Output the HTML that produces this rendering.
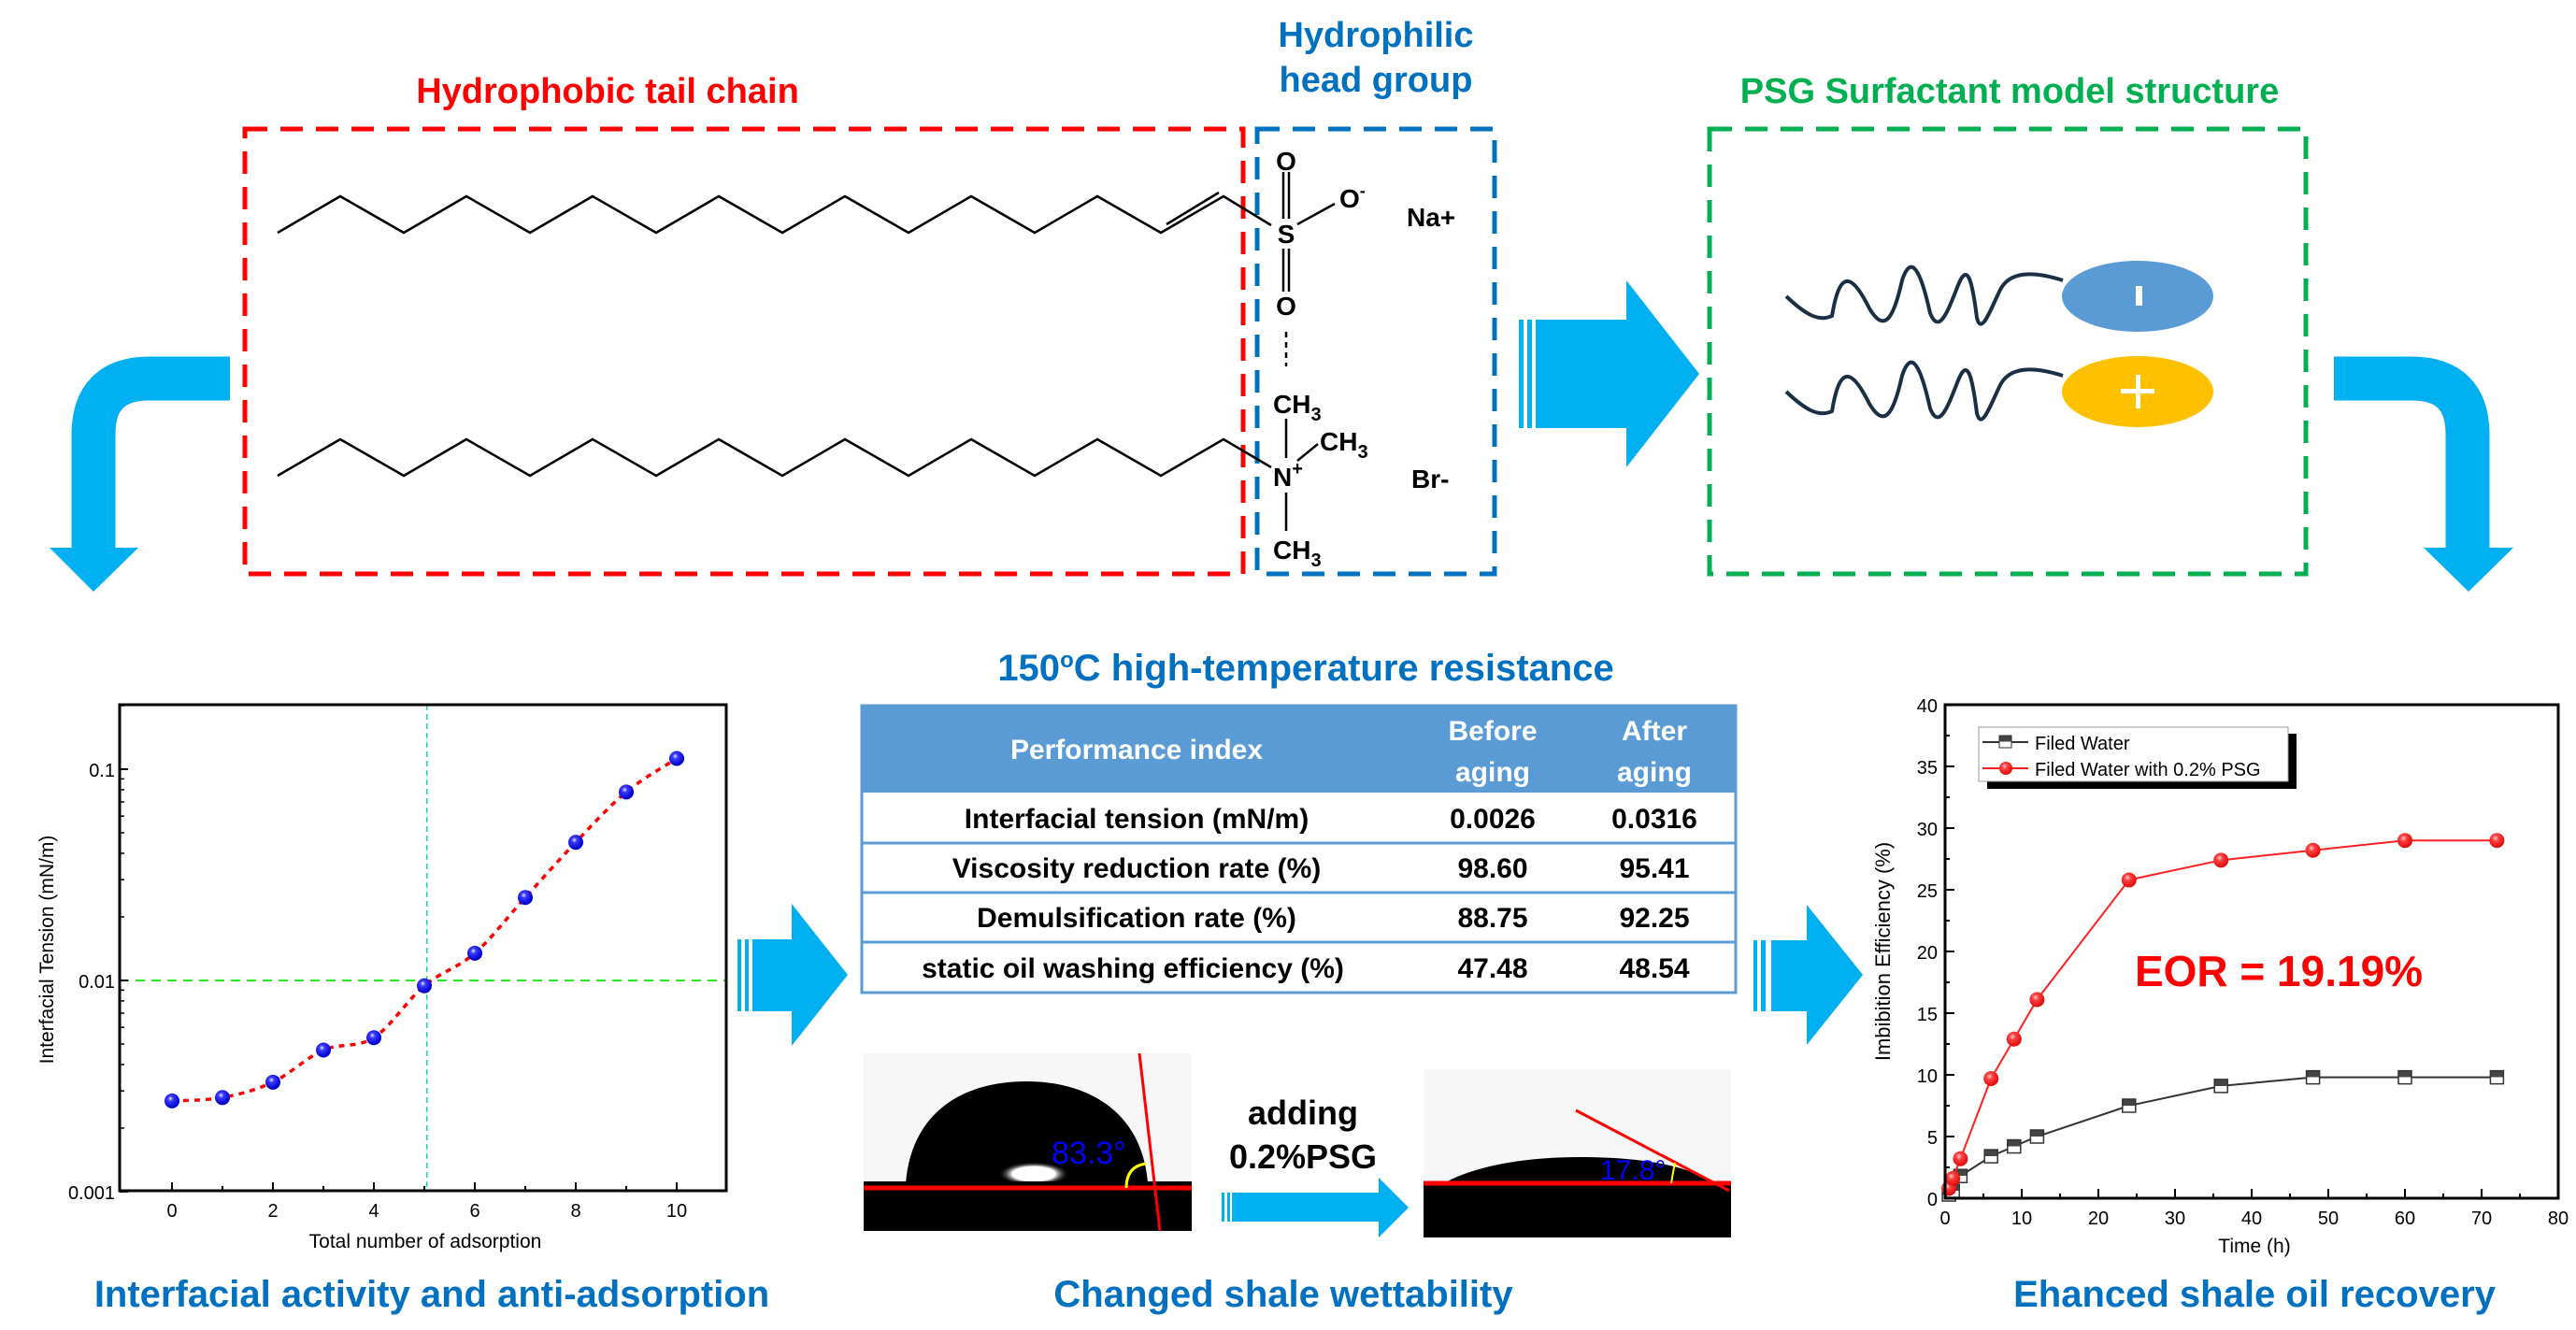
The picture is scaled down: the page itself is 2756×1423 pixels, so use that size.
<!DOCTYPE html>
<html><head><meta charset="utf-8">
<style>
html,body{margin:0;padding:0;background:#fff;}
svg{display:block;font-family:"Liberation Sans",Arial,sans-serif;}
</style></head>
<body>
<svg id="root" width="2756" height="1423" viewBox="0 0 2756 1423" xmlns="http://www.w3.org/2000/svg">
<defs>
<radialGradient id="gBlue" cx="0.4" cy="0.35" r="0.6"><stop offset="0" stop-color="#e8e8ff"/><stop offset="0.3" stop-color="#3a3aff"/><stop offset="1" stop-color="#0000c8"/></radialGradient>
<radialGradient id="gRed" cx="0.4" cy="0.35" r="0.6"><stop offset="0" stop-color="#ffd0d0"/><stop offset="0.35" stop-color="#ff4040"/><stop offset="1" stop-color="#e01010"/></radialGradient>
<linearGradient id="gSq" x1="0" y1="0" x2="0" y2="1"><stop offset="0.5" stop-color="#444"/><stop offset="0.5" stop-color="#fff"/></linearGradient>
<radialGradient id="gHi" cx="0.5" cy="0.5" r="0.5"><stop offset="0" stop-color="#fff"/><stop offset="0.6" stop-color="#fff"/><stop offset="1" stop-color="#000" stop-opacity="0"/></radialGradient>
</defs>

<!-- Titles top -->
<text x="650" y="110" font-size="38" font-weight="bold" fill="#ff0000" text-anchor="middle">Hydrophobic tail chain</text>
<text x="1472" y="50" font-size="38" font-weight="bold" fill="#0070c0" text-anchor="middle">Hydrophilic</text>
<text x="1472" y="98" font-size="38" font-weight="bold" fill="#0070c0" text-anchor="middle">head group</text>
<text x="2150" y="110" font-size="38" font-weight="bold" fill="#00b050" text-anchor="middle">PSG Surfactant model structure</text>

<!-- dashed boxes -->
<rect x="262" y="138" width="1068" height="476" fill="none" stroke="#ff0000" stroke-width="5" stroke-dasharray="24,14"/>
<rect x="1345" y="138" width="254" height="476" fill="none" stroke="#0070c0" stroke-width="5" stroke-dasharray="24,14"/>
<rect x="1829" y="138" width="638" height="476" fill="none" stroke="#00b050" stroke-width="5" stroke-dasharray="24,14"/>

<!-- molecule -->
<g stroke="#000" stroke-width="2.5" fill="none">
<polyline points="297,249 364,210 432,249 499,210 567,249 634,210 702,249 769,210 837,249 904,210 972,249 1039,210 1107,249 1174,210 1242,249 1309,210 1360,241"/>
<line x1="1248" y1="240" x2="1304" y2="206"/>
<polyline points="297,509 364,470 432,509 499,470 567,509 634,470 702,509 769,470 837,509 904,470 972,509 1039,470 1107,509 1174,470 1242,509 1309,470 1360,500"/>
<line x1="1373" y1="184" x2="1373" y2="234"/><line x1="1379" y1="184" x2="1379" y2="234"/>
<line x1="1373" y1="266" x2="1373" y2="312"/><line x1="1379" y1="266" x2="1379" y2="312"/>
<line x1="1388" y1="240" x2="1428" y2="218"/>
<line x1="1376" y1="355" x2="1376" y2="392" stroke-dasharray="6,5"/>
<line x1="1376" y1="448" x2="1376" y2="490"/>
<line x1="1376" y1="527" x2="1376" y2="568"/>
<line x1="1388" y1="493" x2="1410" y2="475"/>
</g>
<g font-size="28" font-weight="bold" fill="#000">
<text x="1376" y="182" text-anchor="middle">O</text>
<text x="1376" y="260" text-anchor="middle">S</text>
<text x="1376" y="337" text-anchor="middle">O</text>
<text x="1433" y="222">O<tspan font-size="18" dy="-12">-</tspan></text>
<text x="1505" y="242">Na+</text>
<text x="1362" y="442">CH<tspan font-size="20" dy="8">3</tspan></text>
<text x="1362" y="520">N<tspan font-size="20" dy="-12">+</tspan></text>
<text x="1412" y="482">CH<tspan font-size="20" dy="8">3</tspan></text>
<text x="1362" y="598">CH<tspan font-size="20" dy="8">3</tspan></text>
<text x="1510" y="522">Br-</text>
</g>

<!-- surfactant model -->
<g>
<path d="M1911,317 C1930,335 1945,345 1960,338 C1968,290 1980,290 2000,330 C2015,355 2025,345 2035,300 C2045,270 2055,290 2065,335 C2075,360 2085,330 2095,305 C2105,280 2110,300 2115,340 C2120,360 2130,330 2140,310 C2150,290 2175,290 2207,300" fill="none" stroke="#1a2f45" stroke-width="4"/>
<path d="M1911,419 C1930,437 1945,447 1960,440 C1968,392 1980,392 2000,432 C2015,457 2025,447 2035,402 C2045,372 2055,392 2065,437 C2075,462 2085,432 2095,407 C2105,382 2110,402 2115,442 C2120,462 2130,432 2140,412 C2150,392 2175,392 2207,402" fill="none" stroke="#1a2f45" stroke-width="4"/>
<ellipse cx="2287" cy="317" rx="81" ry="38" fill="#5b9bd5"/>
<rect x="2285" y="306" width="7" height="21" fill="#fff"/>
<ellipse cx="2287" cy="419" rx="81" ry="38" fill="#ffc000"/>
<rect x="2285" y="401" width="5" height="36" fill="#fff"/><rect x="2269" y="416" width="36" height="5" fill="#fff"/>
</g>

<!-- arrows -->
<g fill="#00b0f0">
<g>
<rect x="1625" y="342" width="5" height="116"/><rect x="1634" y="342" width="5" height="116"/><rect x="1643" y="342" width="97" height="116"/>
<polygon points="1740,300 1818,400 1740,500"/>
</g>
<g>
<path d="M246,405 L160,405 Q100,405 100,465 L100,590" fill="none" stroke="#00b0f0" stroke-width="47"/>
<polygon points="53,586 148,586 100,633"/>
</g>
<g>
<path d="M2497,405 L2580,405 Q2640,405 2640,465 L2640,590" fill="none" stroke="#00b0f0" stroke-width="47"/>
<polygon points="2593,586 2689,586 2641,633"/>
</g>
<g>
<rect x="789" y="1005" width="4" height="77"/><rect x="797" y="1005" width="4" height="77"/><rect x="805" y="1005" width="44" height="77"/>
<polygon points="847,967 907,1043 847,1119"/>
</g>
<g>
<rect x="1876" y="1006" width="4" height="76"/><rect x="1884" y="1006" width="5" height="76"/><rect x="1895" y="1006" width="40" height="76"/>
<polygon points="1933,968 1993,1043 1933,1118"/>
</g>
<g>
<rect x="1307" y="1276" width="3" height="31"/><rect x="1313" y="1276" width="3" height="31"/><rect x="1318" y="1276" width="157" height="31"/>
<polygon points="1475,1260 1507,1292 1475,1324"/>
</g>
</g>

<!-- table -->
<g>
<text x="1397" y="728" font-size="40" font-weight="bold" fill="#0070c0" text-anchor="middle">150<tspan font-size="24" dy="-14">o</tspan><tspan dy="14">C high-temperature resistance</tspan></text>
<rect x="922" y="755" width="935" height="93" fill="#5b9bd5"/>
<rect x="922" y="755" width="935" height="307" fill="none" stroke="#5b9bd5" stroke-width="3"/>
<line x1="922" y1="902" x2="1857" y2="902" stroke="#5b9bd5" stroke-width="3"/>
<line x1="922" y1="955" x2="1857" y2="955" stroke="#5b9bd5" stroke-width="3"/>
<line x1="922" y1="1008" x2="1857" y2="1008" stroke="#5b9bd5" stroke-width="3"/>
<g font-size="30" font-weight="bold" fill="#fff" text-anchor="middle">
<text x="1216" y="812">Performance index</text>
<text x="1597" y="792">Before</text><text x="1597" y="836">aging</text>
<text x="1770" y="792">After</text><text x="1770" y="836">aging</text>
</g>
<g font-size="30" font-weight="bold" fill="#000" text-anchor="middle">
<text x="1216" y="886">Interfacial tension (mN/m)</text><text x="1597" y="886">0.0026</text><text x="1770" y="886">0.0316</text>
<text x="1216" y="939">Viscosity reduction rate (%)</text><text x="1597" y="939">98.60</text><text x="1770" y="939">95.41</text>
<text x="1216" y="992">Demulsification rate (%)</text><text x="1597" y="992">88.75</text><text x="1770" y="992">92.25</text>
<text x="1212" y="1046">static oil washing efficiency (%)</text><text x="1597" y="1046">47.48</text><text x="1770" y="1046">48.54</text>
</g>
</g>

<!-- droplets -->
<g>
<rect x="924" y="1127" width="351" height="190" fill="#f7f7f7"/>
<path d="M969,1266 C975,1190 1030,1157 1098,1157 C1165,1157 1222,1190 1228,1266 Z" fill="#000"/>
<ellipse cx="1106" cy="1256" rx="38" ry="13" fill="url(#gHi)"/>
<rect x="924" y="1264" width="351" height="53" fill="#000"/>
<line x1="924" y1="1271" x2="1275" y2="1271" stroke="#ff0000" stroke-width="5"/>
<line x1="1219" y1="1127" x2="1241" y2="1317" stroke="#ff0000" stroke-width="3"/>
<path d="M1205,1271 Q1205,1248 1226,1245" fill="none" stroke="#ffff00" stroke-width="3"/>
<text x="1125" y="1245" font-size="34" fill="#0000ff">83.3°</text>
</g>
<g>
<rect x="1523" y="1144" width="329" height="180" fill="#f7f7f7"/>
<path d="M1541,1268 C1580,1245 1640,1238 1690,1238 C1760,1238 1810,1248 1837,1268 Z" fill="#000"/>
<rect x="1523" y="1267" width="329" height="57" fill="#000"/>
<line x1="1523" y1="1266" x2="1852" y2="1266" stroke="#ff0000" stroke-width="5"/>
<line x1="1686" y1="1188" x2="1850" y2="1274" stroke="#ff0000" stroke-width="3"/>
<path d="M1788,1266 Q1790,1254 1792,1244" fill="none" stroke="#ffff00" stroke-width="2"/>
<text x="1712" y="1262" font-size="30" fill="#0000ff">17.8°</text>
</g>
<text x="1394" y="1203" font-size="36" font-weight="bold" fill="#000" text-anchor="middle">adding</text>
<text x="1394" y="1250" font-size="36" font-weight="bold" fill="#000" text-anchor="middle">0.2%PSG</text>

<!-- bottom titles -->
<g font-size="40" font-weight="bold" fill="#0070c0" text-anchor="middle">
<text x="462" y="1398">Interfacial activity and anti-adsorption</text>
<text x="1373" y="1398">Changed shale wettability</text>
<text x="2412" y="1398">Ehanced shale oil recovery</text>
</g>

<g id="leftChart"></g>
<g id="rightChart"></g>
</svg>

<script>
// Left chart data
const iftCycles = [0,1,2,3,4,5,6,7,8,9,10];
const iftValues = [0.00269,0.00279,0.0033,0.00468,0.00536,0.00944,0.01346,0.0247,0.0451,0.078,0.1124];
const iftXTicks = [0,2,4,6,8,10];
const iftYTicks = [0.001,0.01,0.1];
const iftYTickLabels = ["0.001","0.01","0.1"];
// Right chart data
const timeHours = [0.5,1,2,6,9,12,24,36,48,60,72];
const waterEff = [0.3,0.6,1.8,3.4,4.2,5.0,7.5,9.1,9.8,9.8,9.8];
const psgEff = [0.8,1.6,3.2,9.7,12.9,16.1,25.8,27.4,28.2,29.0,29.0];
const timeTicks = [0,10,20,30,40,50,60,70,80];
const effTicks = [0,5,10,15,20,25,30,35,40];

const NS = "http://www.w3.org/2000/svg";
function mk(parent, tag, attrs, text){
  const e = document.createElementNS(NS, tag);
  for (const k in attrs) e.setAttribute(k, attrs[k]);
  if (text !== undefined) e.textContent = text;
  parent.appendChild(e); return e;
}

// ---- Left chart ----
(function(){
  const g = document.getElementById('leftChart');
  const L=128,R=777,T=754,B=1274;
  const x = v => 184 + (v-0)*54;
  const y = v => 1049 - (Math.log10(v)+2)*226;
  let e;
  e = mk(g,'line',{x1:L,x2:R,y1:y(0.01),y2:y(0.01),stroke:'#22ee22','stroke-width':2,'stroke-dasharray':'10,7'});
  
  
  e = mk(g,'line',{x1:x(5.05),x2:x(5.05),y1:T,y2:B,stroke:'#22dd88','stroke-width':1.5,'stroke-dasharray':'6,4'});
  
  
  const pts = iftCycles.map((c,i)=>[x(c),y(iftValues[i])]);
  let d = `M${pts[0][0]},${pts[0][1]}`;
  for (let i=0;i<pts.length-1;i++){
    const p0=pts[Math.max(0,i-1)],p1=pts[i],p2=pts[i+1],p3=pts[Math.min(pts.length-1,i+2)];
    d += ` C${p1[0]+(p2[0]-p0[0])/6},${p1[1]+(p2[1]-p0[1])/6} ${p2[0]-(p3[0]-p1[0])/6},${p2[1]-(p3[1]-p1[1])/6} ${p2[0]},${p2[1]}`;
  }
  e = mk(g,'path',{d:d,fill:'none',stroke:'#ff0000','stroke-width':3.5,'stroke-dasharray':'6,6'});
  
  
  pts.forEach((p,i)=>{
    const c = mk(g,'circle',{cx:p[0],cy:p[1],r:8,fill:'url(#gBlue)'});
    
    
  });
  e = mk(g,'rect',{x:L,y:T,width:R-L,height:B-T,fill:'none',stroke:'#000','stroke-width':3});
  
  
  for (let v=0; v<=10; v++){
    mk(g,'line',{x1:x(v),x2:x(v),y1:B,y2:B-(v%2?5:9),stroke:'#000','stroke-width':2});
  }
  iftXTicks.forEach(v=>{
    const t = mk(g,'text',{x:x(v),y:B+28,'font-size':20,'text-anchor':'middle',fill:'#000'}, String(v));
    
    
  });
  iftYTicks.forEach((v,i)=>{
    mk(g,'line',{x1:L,x2:L+9,y1:y(v),y2:y(v),stroke:'#000','stroke-width':2});
    const t = mk(g,'text',{x:L-5,y:y(v)+8,'font-size':20,'text-anchor':'end',fill:'#000'}, iftYTickLabels[i]);
    
    
    for (let m=2;m<=9;m++){
      const mv=v*m; if (y(mv)<T) break;
      mk(g,'line',{x1:L,x2:L+5,y1:y(mv),y2:y(mv),stroke:'#000','stroke-width':1.5});
    }
  });
  e = mk(g,'text',{x:455,y:1335,'font-size':21,'text-anchor':'middle',fill:'#000'},'Total number of adsorption');
  
  
  e = mk(g,'text',{x:0,y:0,'font-size':21,'text-anchor':'middle',fill:'#000',transform:'translate(57,1016) rotate(-90)'},'Interfacial Tension (mN/m)');
  
  
})();

// ---- Right chart ----
(function(){
  const g = document.getElementById('rightChart');
  const L=2081,R=2737,T=754,B=1282;
  const x = v => L + v/80*(R-L);
  const y = v => B - v/40*(B-T);
  let e;
  for (let v=0; v<=80; v+=5){
    mk(g,'line',{x1:x(v),x2:x(v),y1:B,y2:B-(v%10?5:10),stroke:'#000','stroke-width':2});
  }
  timeTicks.forEach(v=>{
    const t = mk(g,'text',{x:x(v),y:B+28,'font-size':20,'text-anchor':'middle',fill:'#000'},String(v));
    
    
  });
  for (let v=0; v<=40; v+=2.5){
    mk(g,'line',{x1:L,x2:L+(v%5?5:10),y1:y(v),y2:y(v),stroke:'#000','stroke-width':2});
  }
  effTicks.forEach(v=>{
    const t = mk(g,'text',{x:L-8,y:y(v)+8,'font-size':20,'text-anchor':'end',fill:'#000'},String(v));
    
    
  });
  e = mk(g,'polyline',{points:timeHours.map((t,i)=>x(t)+','+y(waterEff[i])).join(' '),fill:'none',stroke:'#333','stroke-width':2});
  
  
  timeHours.forEach((t,i)=>{
    const r = mk(g,'rect',{x:x(t)-7,y:y(waterEff[i])-7,width:14,height:14,fill:'url(#gSq)',stroke:'#333','stroke-width':1.5});
    
    
  });
  e = mk(g,'polyline',{points:timeHours.map((t,i)=>x(t)+','+y(psgEff[i])).join(' '),fill:'none',stroke:'#ff2020','stroke-width':2});
  
  
  timeHours.forEach((t,i)=>{
    const c = mk(g,'circle',{cx:x(t),cy:y(psgEff[i]),r:8,fill:'url(#gRed)'});
    
    
  });
  e = mk(g,'rect',{x:L,y:T,width:R-L,height:B-T,fill:'none',stroke:'#000','stroke-width':3});
  
  
  const lg = mk(g,'g',{});
  
  
  mk(lg,'rect',{x:2126,y:785,width:331,height:59,fill:'#000'});
  mk(lg,'rect',{x:2117,y:778,width:331,height:58,fill:'#fff',stroke:'#999','stroke-width':1});
  mk(lg,'line',{x1:2121,x2:2170,y1:794,y2:794,stroke:'#333','stroke-width':2});
  mk(lg,'rect',{x:2139,y:787,width:13,height:13,fill:'url(#gSq)',stroke:'#333'});
  const t1 = mk(lg,'text',{x:2177,y:802,'font-size':20,fill:'#000'},'Filed Water');
  
  
  mk(lg,'line',{x1:2121,x2:2170,y1:822,y2:822,stroke:'#ff2020','stroke-width':2});
  mk(lg,'circle',{cx:2146,cy:822,r:7,fill:'url(#gRed)'});
  const t2 = mk(lg,'text',{x:2177,y:830,'font-size':20,fill:'#000'},'Filed Water with 0.2% PSG');
  
  
  e = mk(g,'text',{x:2438,y:1055,'font-size':46,'font-weight':'bold','text-anchor':'middle',fill:'#ff0000'},'EOR = 19.19%');
  
  
  e = mk(g,'text',{x:2412,y:1340,'font-size':21,'text-anchor':'middle',fill:'#000'},'Time (h)');
  
  
  e = mk(g,'text',{x:0,y:0,'font-size':22,'text-anchor':'middle',fill:'#000',transform:'translate(2022,1018) rotate(-90)'},'Imbibition Efficiency (%)');
  
  
})();
</script>
</body></html>
